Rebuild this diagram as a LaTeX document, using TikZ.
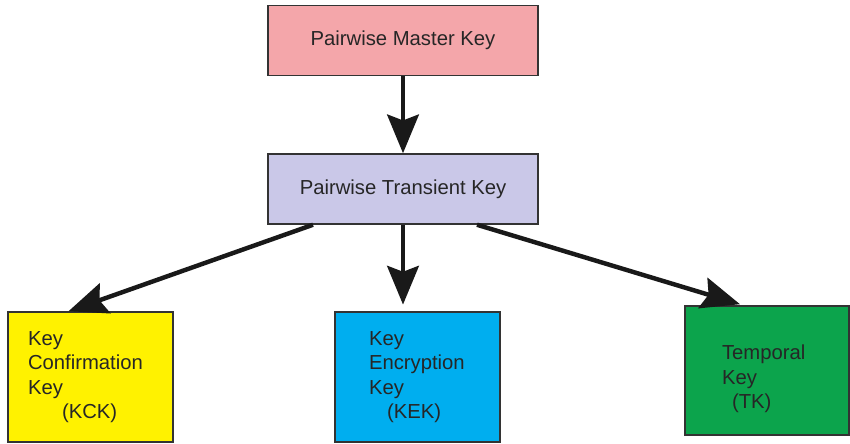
\documentclass[tikz,border=0pt]{standalone}
\usepackage{fontspec}
\setmainfont{Liberation Sans}
\usetikzlibrary{arrows.meta}

\definecolor{pmkpink}{RGB}{244,166,170}
\definecolor{ptklilac}{RGB}{202,200,232}
\definecolor{kckyellow}{RGB}{255,242,0}
\definecolor{kekblue}{RGB}{0,174,239}
\definecolor{tkgreen}{RGB}{12,164,76}

\begin{document}
\begin{tikzpicture}[
    keybox/.style={draw=black!80, line width=1.3pt, text=black!85,
        font=\fontsize{17.3pt}{20.8pt}\selectfont},
    topbox/.style={keybox, minimum width=8.1cm, minimum height=2.1cm},
    leafbox/.style={keybox, align=left, minimum height=3.9cm, inner ysep=0pt},
    bigarrow/.style={-{Stealth[length=33pt, width=27pt, inset=5pt]}, line width=3.8pt, black!90}
    ]
    \useasboundingbox (0, 0) rectangle (25.5, -13.32);

    % Cles du haut
    \node [topbox, fill=pmkpink] (pmk) at (12.09, -1.215) {Pairwise Master Key};
    \node [topbox, fill=ptklilac] (ptk) at (12.09, -5.67) {Pairwise Transient Key};

    % Cles derivees
    \node [leafbox, fill=kckyellow, text width=3.75cm, inner xsep=0.6cm] (kck) at (2.715, -11.31)
        {Key\\Confirmation\\Key\\\hspace*{1.02cm}(KCK)};
    \node [leafbox, fill=kekblue, text width=2.91cm, inner xsep=1.02cm] (kek) at (12.525, -11.31)
        {Key\\Encryption\\Key\\\hspace*{0.54cm}(KEK)};
    \node [leafbox, fill=tkgreen, text width=2.7cm, inner xsep=1.11cm, minimum height=3.87cm] (tk) at (23.01, -11.115)
        {\\[6pt]Temporal\\Key\\\hspace*{0.3cm}(TK)};

    % Fleches
    \draw [bigarrow] (pmk.south) -- (ptk.north);
    \draw [bigarrow] ([xshift=-2.7cm]ptk.south) -- ([xshift=-0.66cm]kck.north);
    \draw [bigarrow, shorten >=0.2cm] (ptk.south) -- (ptk.south |- kek.north);
    \draw [bigarrow] ([xshift=2.22cm]ptk.south) -- ([xshift=-0.81cm, yshift=0.03cm]tk.north);
\end{tikzpicture}
\end{document}
